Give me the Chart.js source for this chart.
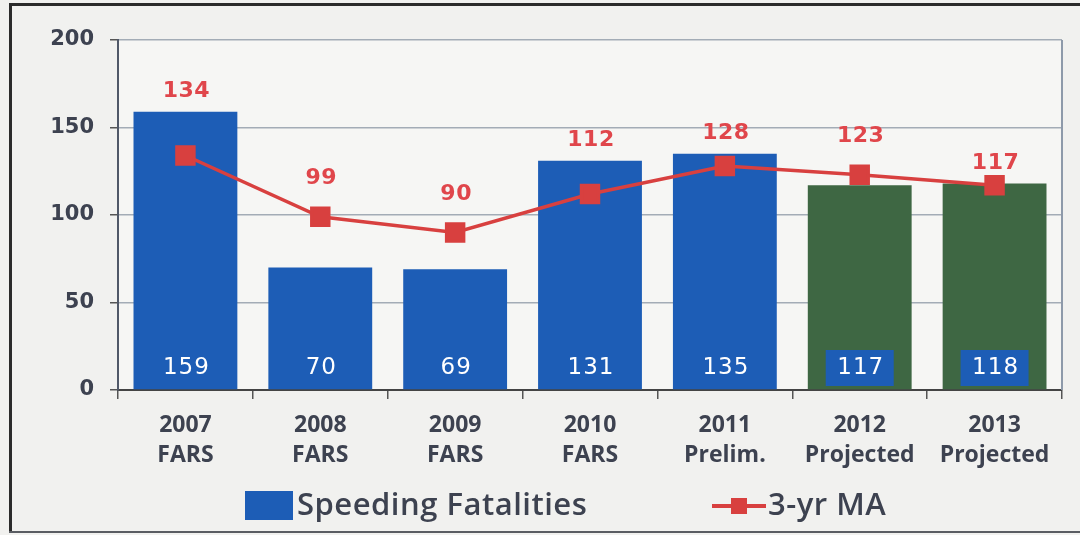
<!DOCTYPE html>
<html>
<head>
<meta charset="utf-8">
<script src="https://cdn.jsdelivr.net/npm/chart.js@4.4.0/dist/chart.umd.min.js"></script>
<style>
  html, body { margin: 0; padding: 0; background: #f1f1ef; }
  #contenedor { position: relative; width: 1080px; height: 535px; }
</style>
</head>
<body>
<div id="contenedor"><canvas id="chartVelocidad" width="1080" height="535"></canvas></div>
<script>
/* datos */
const anios = [
  ["2007", "FARS"], ["2008", "FARS"], ["2009", "FARS"], ["2010", "FARS"],
  ["2011", "Prelim."], ["2012", "Projected"], ["2013", "Projected"]
];
const fatalidades = [159, 70, 69, 131, 135, 117, 118];
const mediaMovil = [134, 99, 90, 112, 128, 123, 117];
const proyectado = [false, false, false, false, false, true, true];
const ticksY = [0, 50, 100, 150, 200];

const azul = "#1d5db6";
const verde = "#3e6743";
const rojo = "#d8403f";
const textoGris = "#3d4250";

const canvas = document.getElementById("chartVelocidad");
const context = canvas.getContext("2d");

/* fondo y marco del recorte escaneado */
const fondo = {
  id: "fondo",
  beforeDraw(chart) {
    const ctx = chart.ctx;
    ctx.save();
    ctx.fillStyle = "#f1f1ef";
    ctx.fillRect(0, 0, chart.width, chart.height);
    ctx.fillStyle = "#f6f6f4";
    const a = chart.chartArea;
    ctx.fillRect(a.left, a.top, a.right - a.left, a.bottom - a.top);
    ctx.fillStyle = "#2b2b2b";
    ctx.fillRect(9, 3, 3, chart.height - 6);
    ctx.fillRect(9, 3, chart.width - 9, 3);
    ctx.fillStyle = "#5a5d63";
    ctx.fillRect(9, chart.height - 4, chart.width - 9, 2);
    ctx.restore();
  },
  afterDraw(chart) {
    const ctx = chart.ctx;
    const a = chart.chartArea;
    ctx.save();
    ctx.strokeStyle = "#8e9aaa";
    ctx.lineWidth = 2;
    ctx.beginPath();
    ctx.moveTo(a.right, a.top);
    ctx.lineTo(a.right, a.bottom);
    ctx.stroke();
    ctx.restore();
  }
};

/* etiquetas de valores */
const etiquetas = {
  id: "etiquetas",
  afterDatasetsDraw(chart) {
    const ctx = chart.ctx;
    const barras = chart.getDatasetMeta(0).data;
    const puntos = chart.getDatasetMeta(1).data;
    const base = chart.scales.y.getPixelForValue(0);
    ctx.save();
    ctx.textAlign = "center";
    ctx.textBaseline = "middle";

    barras.forEach((barra, i) => {
      const y = base - 22;
      if (proyectado[i]) {
        ctx.fillStyle = azul;
        ctx.fillRect(barra.x - 34, y - 18, 68, 36);
      }
      ctx.fillStyle = "#ffffff";
      ctx.letterSpacing = "1px";
      ctx.font = "500 23px 'DejaVu Sans'";
      ctx.fillText(String(fatalidades[i]), barra.x + 1, y);
    });

    puntos.forEach((punto, i) => {
      // encima de la barra si la barra tapa el punto, si no encima del punto
      const y = barras[i].y < punto.y ? barras[i].y - 20 : punto.y - 38;
      ctx.fillStyle = "#e0464b";
      ctx.letterSpacing = "0.5px";
      ctx.font = "bold 22px 'DejaVu Sans'";
      ctx.fillText(String(mediaMovil[i]), punto.x + 1, y);
    });
    ctx.restore();
  }
};

/* leyenda dibujada a mano para imitar el marcador de linea */
const leyenda = {
  id: "leyenda",
  afterDraw(chart) {
    const ctx = chart.ctx;
    const y = 506;
    ctx.save();
    ctx.textBaseline = "middle";
    ctx.font = "600 31px 'Open Sans'";
    ctx.letterSpacing = "0.5px";
    ctx.fillStyle = azul;
    ctx.fillRect(245, 491, 48, 29);
    ctx.fillStyle = textoGris;
    ctx.fillText(chart.data.datasets[0].label, 297, y);

    ctx.strokeStyle = rojo;
    ctx.lineWidth = 4;
    ctx.beginPath();
    ctx.moveTo(712, y);
    ctx.lineTo(766, y);
    ctx.stroke();
    ctx.fillStyle = rojo;
    ctx.fillRect(731, y - 8, 16, 16);
    ctx.fillStyle = textoGris;
    ctx.fillText(chart.data.datasets[1].label, 768, y);
    ctx.restore();
  }
};

const chartVelocidad = new Chart(context, {
  type: "bar",
  data: {
    labels: anios,
    datasets: [
      {
        type: "bar",
        label: "Speeding Fatalities",
        data: fatalidades,
        backgroundColor: proyectado.map((p) => (p ? verde : azul)),
        barPercentage: 0.77,
        categoryPercentage: 1,
        order: 1,
      },
      {
        type: "line",
        label: "3-yr MA",
        data: mediaMovil,
        borderColor: rojo,
        backgroundColor: rojo,
        borderWidth: 3.5,
        pointStyle: "rect",
        pointRadius: 12,
        tension: 0,
        order: 0,
      },
    ],
  },
  options: {
    responsive: false,
    animation: false,
    layout: {
      padding: { left: 0, top: 40, right: 18, bottom: 50 },
    },
    plugins: {
      legend: { display: false },
      tooltip: { enabled: false },
    },
    scales: {
      x: {
        grid: {
          display: true,
          drawOnChartArea: false,
          tickLength: 9,
          tickColor: "#555",
          lineWidth: 1.5,
        },
        border: { color: "#444", width: 2 },
        ticks: {
          color: textoGris,
          font: { family: "Open Sans", weight: "bold", size: 23, lineHeight: 1.3 },
          padding: 12,
          maxRotation: 0,
          autoSkip: false,
        },
        afterFit: (scale) => { scale.height = 95; },
      },
      y: {
        min: 0,
        max: 200,
        afterBuildTicks: (scale) => {
          scale.ticks = ticksY.map((v) => ({ value: v }));
        },
        grid: {
          color: "#a3acb6",
          lineWidth: 1.5,
          tickLength: 8,
          tickColor: "#555",
        },
        border: { color: "#505868", width: 2 },
        ticks: {
          color: textoGris,
          font: { family: "DejaVu Sans", weight: "bold", size: 21 },
          padding: 16,
        },
        afterFit: (scale) => { scale.width = 118; },
      },
    },
  },
  plugins: [fondo, etiquetas, leyenda],
});
</script>
</body>
</html>
